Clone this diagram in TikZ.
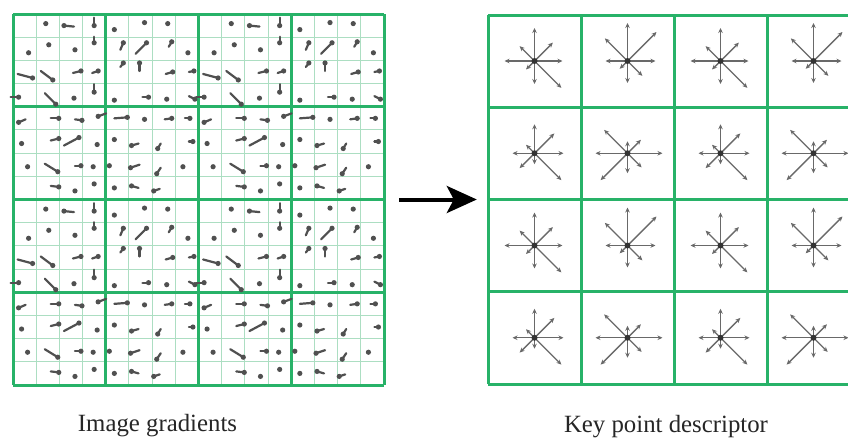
\documentclass[tikz,border=0pt]{standalone}
\usepackage{fontspec}
\setmainfont{Liberation Serif}
\usetikzlibrary{arrows.meta}
\definecolor{gridgreen}{RGB}{40,178,104}
\definecolor{finegreen}{RGB}{172,222,194}
\definecolor{vecgray}{RGB}{80,80,80}
\definecolor{bingray}{RGB}{105,105,105}
\tikzset{>=Stealth}
\tikzset{
  coarse/.style={gridgreen,line width=3pt},
  fine/.style={finegreen,line width=0.9pt},
  gradvec/.style={vecgray,line width=2.2pt,line cap=round},
  binvec/.style={bingray,line width=1.4pt,-{Stealth[length=5pt,width=4.5pt]}},
  caption/.style={anchor=base,text=black!85,font=\fontsize{24.8}{28}\selectfont}
}

\begin{document}
\begin{tikzpicture}[x=1pt,y=-1pt]
    \useasboundingbox (0,0) rectangle (848,437);
    \fill[white] (0,0) rectangle (848,437);
    \clip (0,0) rectangle (848,437);

    \node[inner sep=0,minimum size=371pt](grad) at (198.5,199.5) {};
    \node[inner sep=0,minimum width=372pt,minimum height=369pt](desc) at (674,199.5) {};

    % 16x16 sample grid
    \foreach \i in {0,...,16} {
        \draw[fine] ({13+\i*23.1875},14) -- ({13+\i*23.1875},385);
        \draw[fine] (13,{14+\i*23.1875}) -- (384,{14+\i*23.1875});
    }
    \foreach \i in {0,...,4} {
        \draw[coarse] ({13+\i*92.75},14) -- ({13+\i*92.75},385);
        \draw[coarse] (13,{14+\i*92.75}) -- (384,{14+\i*92.75});
    }

    % gradient samples, one 8x8 block repeated
    \foreach \bx in {0,1}
    \foreach \by in {0,1}
    \foreach \ox/\oy/\u/\v/\s [count=\k from 0] in {
        0/0/0/0/0, -2/-2/0/0/1, -7/0/10/1/1, 0/0/0/-8/1, -3/4/0/0/1, 4/-3/0/0/1, 4/-2/0/0/1, 0/0/0/0/0,
        4/4/0/0/1, 1/-4/0/0/1, 4/1/0/0/1, 0/-6/0/-6/1, 6/-6/-3/7/1, 6/-6/-11/11/1, 8/-7/-3/5/1, 1/4/0/0/1,
        8/6/-15/-4/1, 5/8/-12/-9/1, 10/-1/-8/2/1, 4/-1/-6/2/1, 6/-9/-3/4/1, -1/-9/0/8/1, 9/0/-7/2/1, 7/-1/-5/1/1,
        -6/2/-8/0/1, 8/9/-11/-11/1, 3/3/0/0/1, 0/-3/0/-8/1, -3/5/0/0/1, 8/2/-6/0/1, 3/4/0/0/1, 8/4/-6/-3/1,
        -6/4/7/-3/1, 11/0/-8/0/1, 11/2/-7/-1/1, 4/-2/8/-3/1, 10/-1/-13/1/1, 4/1/0/0/1, 8/0/-7/1/1, 3/0/-5/0/1,
        -3/2/0/0/1, 11/-3/-8/2/1, 8/-4/-15/8/1, 3/3/0/0/1, -3/-2/0/0/1, -9/4/7/-2/1, -6/7/3/-5/1, 6/0/-4/0/1,
        3/2/0/0/1, 10/7/-13/-8/1, 10/1/-6/0/1, -1/2/0/0/1, -8/1/0/0/1, -10/3/9/-3/1, -7/9/4/-6/1, -4/2/0/0/1,
        0/0/0/0/0, 11/-1/-8/-1/1, 4/3/0/0/1, 0/-4/0/0/1, -3/0/0/0/1, -9/-2/7/2/1, -10/3/6/-2/1, 0/0/0/0/0} {
        \pgfmathtruncatemacro{\r}{floor(\k/8)}
        \pgfmathtruncatemacro{\c}{\k-8*\r}
        \ifnum\s=1
            \coordinate (p) at ({13+(\bx*8+\c+0.5)*23.1875+\ox},{14+(\by*8+\r+0.5)*23.1875+\oy});
            \draw[gradvec] (p) -- ++(\u,\v);
            \fill[vecgray] (p) circle (2.6pt);
        \fi
    }

    % descriptor cells
    \foreach \i in {0,...,4} {
        \draw[coarse] ({488+\i*93},15) -- ({488+\i*93},384);
        \draw[coarse] (488,{15+\i*92.25}) -- (860,{15+\i*92.25});
    }
    % bin lengths E, NE, N, NW, W, SW, S, SE (y axis points down, so angles turn clockwise)
    \foreach \pc/\pr/\lens in {0/0/{28,26,33,21,30,12,23,38},
                               1/0/{28,41,38,32,22,11,22,21},
                               0/1/{29,28,29,12,22,21,11,38},
                               1/1/{35,19,12,33,32,38,20,20}}
    \foreach \dc in {0,2}
    \foreach \dr in {0,2} {
        \coordinate (o) at ({534.5+(\pc+\dc)*93},{61+(\pr+\dr)*92.25});
        \foreach \len [count=\a from 0] in \lens
            \draw[binvec] (o) -- ++({-\a*45}:\len);
        \fill[black!80] (o) circle (3pt);
    }

    \draw[->,line width=4pt,shorten <=15pt,shorten >=11pt,
          -{Stealth[length=30pt,width=27pt,inset=7pt]}] (grad.east) -- (desc.west);

    \node[caption](gradlbl) at (157.5,431) {Image gradients};
    \node[caption](desclbl) at (666,432) {Key point descriptor};
\end{tikzpicture}
\end{document}
